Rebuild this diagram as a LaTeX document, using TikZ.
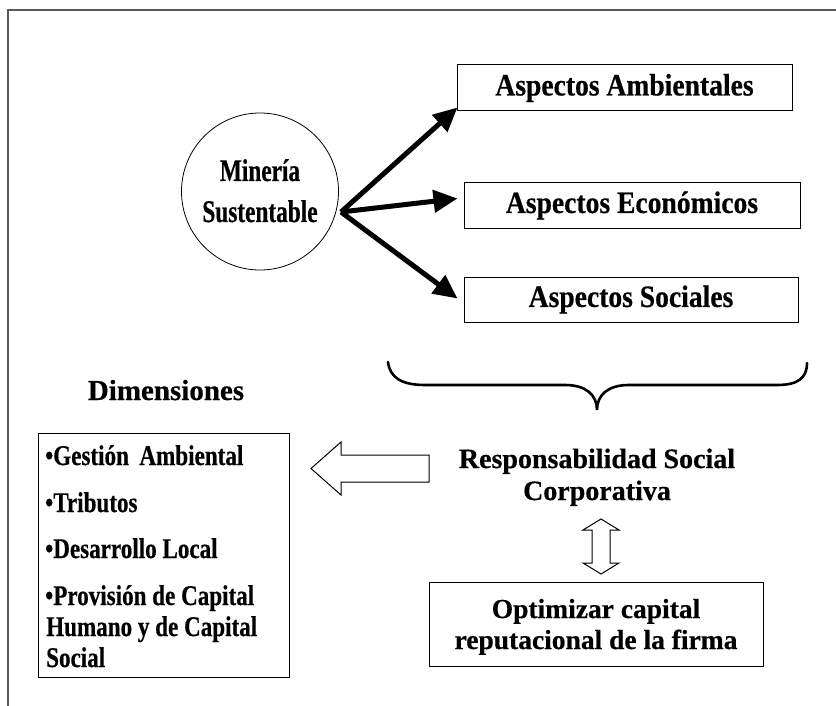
\documentclass[tikz,border=0pt]{standalone}
\usepackage{fontspec}
\setmainfont{Liberation Serif}[FakeBold=0.5]
\newfontfamily\boxfam{Liberation Serif}[FakeStretch=0.89,FakeBold=0.5]
\newfontfamily\circfam{Liberation Serif}[FakeStretch=0.74,FakeBold=0.5]
\newfontfamily\listfam{Liberation Serif}[FakeStretch=0.81,FakeBold=0.5]
\usetikzlibrary{arrows.meta}
\tikzset{
  aspbox/.style={draw, line width=1pt, inner sep=0pt, font=\boxfam\bfseries\fontsize{31}{34}\selectfont},
  circtxt/.style={font=\circfam\bfseries\fontsize{31.5}{34}\selectfont, inner sep=0pt, anchor=base},
  dimtxt/.style={font=\bfseries\fontsize{29}{32}\selectfont, inner sep=0pt, anchor=base},
  listtxt/.style={font=\listfam\bfseries\fontsize{28.5}{32}\selectfont, inner sep=0pt, anchor=base west},
  rsctxt/.style={font=\bfseries\fontsize{28}{31}\selectfont, inner sep=0pt, anchor=base},
  opttxt/.style={font=\bfseries\fontsize{27.5}{31}\selectfont, inner sep=0pt, anchor=base},
  thickarrow/.style={line width=5pt, -{Triangle[length=24pt,width=22pt]}},
  frameline/.style={line width=1.2pt, draw=black!65},
  outline/.style={draw, line width=1pt, fill=white, line join=miter},
  bracestyle/.style={line width=2.6pt, line cap=round},
  plainbox/.style={draw, line width=1pt, inner sep=0pt},
}
\begin{document}
\begin{tikzpicture}[x=1pt,y=-1pt]
\useasboundingbox (0,0) rectangle (836,706);
% frame
\draw[frameline] (836,10) -- (8,10) -- (8,706);
% circle
\node[draw, circle, line width=0.8pt, minimum size=157pt, inner sep=0pt] (min) at (260,191.5) {};
\node[circtxt] (minA) at (260,181) {Minería};
\node[circtxt] (minB) at (260,222) {Sustentable};
% aspect boxes
\node[aspbox, minimum width=335pt, minimum height=46pt] (amb) at (624.5,88) {Aspectos Ambientales};
\node[aspbox, minimum width=336pt, minimum height=45pt] (eco) at (632,205.5) {Aspectos Económicos};
\node[aspbox, minimum width=334pt, minimum height=45pt] (soc) at (631,299.5) {Aspectos Sociales};
% arrows
\coordinate (src) at (341,212);
\draw[thickarrow] (src) -- ([xshift=1pt,yshift=4pt]amb.south west);
\draw[thickarrow] (src) -- ([xshift=-6pt,yshift=7pt]eco.west);
\draw[thickarrow] (src) -- ([xshift=-6pt,yshift=1pt]soc.west);
% brace
\draw[bracestyle] (388,362) .. controls (390,378) and (402,385) .. (425,385)
  -- (565,385) .. controls (586,385) and (597,395) .. (597,410)
  .. controls (597,395) and (608,385) .. (629,385)
  -- (777,385) .. controls (798,385) and (807,378) .. (807,363);
% Dimensiones
\node[dimtxt] (dimt) at (166,400) {Dimensiones};
\node[plainbox, minimum width=251pt, minimum height=244pt] (dimbox) at (163.5,555) {};
\node[listtxt] (d1) at (45,465) {•Gestión\, Ambiental};
\node[listtxt] (d2) at (45,512) {•Tributos};
\node[listtxt] (d3) at (45,558) {•Desarrollo Local};
\node[listtxt] (d4) at (45,605) {•Provisión de Capital};
\node[listtxt] (d5) at (46,636) {Humano y de Capital};
\node[listtxt] (d6) at (46,667) {Social};
% RSC
\node[rsctxt] (rsc1) at (597,468) {Responsabilidad Social};
\node[rsctxt] (rsc2) at (597,500) {Corporativa};
% hollow left arrow
\draw[outline] (429,455) -- (341,455) -- (341,442) -- (311,468.5) -- (341,495) -- (341,482) -- (429,482) -- cycle;
% double vertical arrow
\draw[outline] (601,519) -- (619,530) -- (610,530) -- (610,563) -- (619,563) -- (601,574)
  -- (583,563) -- (592,563) -- (592,530) -- (583,530) -- cycle;
% bottom box
\node[plainbox, minimum width=334pt, minimum height=84pt] (opt) at (596,624) {};
\node[opttxt] (opt1) at (596,618) {Optimizar capital};
\node[opttxt] (opt2) at (596,649) {reputacional de la firma};
\end{tikzpicture}
\end{document}
